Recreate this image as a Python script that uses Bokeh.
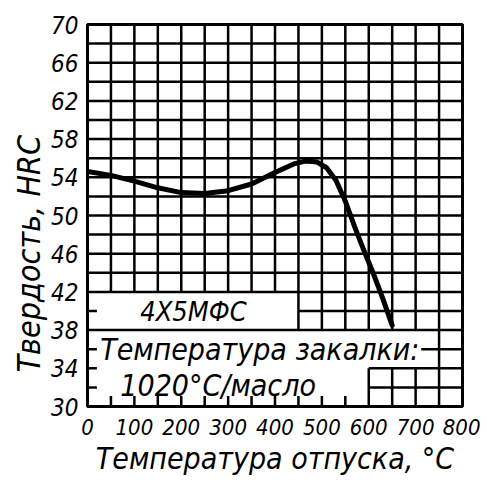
from bokeh.plotting import figure
from bokeh.models import FixedTicker, Range1d, Label, Title
from bokeh.embed import file_html
from bokeh.resources import INLINE

# --- data ---
temp = [0, 50, 100, 150, 200, 250, 300, 350, 400, 440, 465, 490, 510, 530, 550, 570, 590, 610, 630, 650]
hrc = [54.6, 54.2, 53.6, 52.9, 52.4, 52.3, 52.6, 53.3, 54.5, 55.4, 55.7, 55.6, 55.0, 53.7, 51.5, 48.8, 46.3, 43.9, 41.3, 38.5]
x_ticks = [0, 100, 200, 300, 400, 500, 600, 700, 800]
y_ticks = [30, 34, 38, 42, 46, 50, 54, 58, 62, 66, 70]
x_grid = list(range(0, 801, 50))
y_grid = list(range(30, 71, 2))
steel = "4Х5МФС"
note1 = "Температура закалки:"
note2 = "1020°С/масло"
x_title = "Температура отпуска, °С"
y_title = "Твердость, HRC"

# blank areas of the grid that hold the captions: (x0, x1, y0, y1)
blank_areas = [(0, 450, 38, 42), (0, 712, 34, 38), (0, 600, 30, 34), (0, 600, 33, 35)]
# short edge ticks left inside the blank areas
left_tick_y = [32, 34, 36, 40]
bottom_tick_x = list(range(50, 551, 50))
LEFT_TICK_LEN = 20      # in x units
BOTTOM_TICK_LEN = 1.1   # in y units

FONT = "DejaVu Sans Condensed"


def visible(lo, hi, hidden):
    segs = [(lo, hi)]
    for a, b in hidden:
        new = []
        for s, e in segs:
            if b <= s or a >= e:
                new.append((s, e))
                continue
            if a > s:
                new.append((s, a))
            if b < e:
                new.append((b, e))
        segs = new
    return segs


gx, gy = [], []
for yv in y_grid:
    hid = [(a[0], a[1]) for a in blank_areas if a[2] < yv < a[3]]
    for s, e in visible(x_grid[0], x_grid[-1], hid):
        gx.append([s, e])
        gy.append([yv, yv])
for xv in x_grid:
    hid = [(a[2], a[3]) for a in blank_areas if a[0] < xv < a[1]]
    for s, e in visible(y_grid[0], y_grid[-1], hid):
        gx.append([xv, xv])
        gy.append([s, e])
for yv in left_tick_y:
    gx.append([x_grid[0], x_grid[0] + LEFT_TICK_LEN])
    gy.append([yv, yv])
for xv in bottom_tick_x:
    gx.append([xv, xv])
    gy.append([y_grid[0], y_grid[0] + BOTTOM_TICK_LEN])

p = figure(width=480, height=478, output_backend="svg", toolbar_location=None,
           x_range=Range1d(0, 800), y_range=Range1d(30, 70),
           min_border_left=87, min_border_right=18, min_border_top=24, min_border_bottom=71)
p.background_fill_color = "white"
p.border_fill_color = "white"
p.outline_line_color = "black"
p.outline_line_width = 3
p.xgrid.visible = False
p.ygrid.visible = False

p.xaxis.ticker = FixedTicker(ticks=x_ticks)
p.yaxis.ticker = FixedTicker(ticks=y_ticks)
for ax in (p.xaxis, p.yaxis):
    ax.axis_line_color = None
    ax.major_tick_line_color = None
    ax.minor_tick_line_color = None
    ax.major_label_text_font = FONT
    ax.major_label_text_font_style = "italic"
    ax.major_label_text_color = "black"
p.xaxis.major_label_text_font_size = "22px"
p.yaxis.major_label_text_font_size = "24px"
p.xaxis.major_label_standoff = 6
p.yaxis.major_label_standoff = 3
p.xaxis.axis_label = x_title
p.xaxis.axis_label_text_font = FONT
p.xaxis.axis_label_text_font_style = "italic"
p.xaxis.axis_label_text_font_size = "30px"
p.xaxis.axis_label_text_color = "black"
p.xaxis.axis_label_standoff = 3

p.add_layout(Title(text=y_title, align="left", offset=34, text_font=FONT,
                   text_font_style="italic", text_font_size="32px", text_color="black",
                   standoff=2), "left")

# grid and edge ticks
p.multi_line(xs=gx, ys=gy, line_color="black", line_width=2.5)

# curve
p.line(temp, hrc, line_color="black", line_width=5, line_join="round", line_cap="round")

p.add_layout(Label(x=226, y=40, text=steel, text_font=FONT, text_font_style="italic",
                   text_font_size="27px", text_align="center", text_baseline="middle",
                   text_color="black"))
p.add_layout(Label(x=27, y=36, text=note1, text_font=FONT, text_font_style="italic",
                   text_font_size="30px", text_align="left", text_baseline="middle",
                   text_color="black"))
p.add_layout(Label(x=70, y=32.2, text=note2, text_font=FONT, text_font_style="italic",
                   text_font_size="30px", text_align="left", text_baseline="middle",
                   text_color="black"))

open("out.html", "w").write(file_html(p, INLINE))
